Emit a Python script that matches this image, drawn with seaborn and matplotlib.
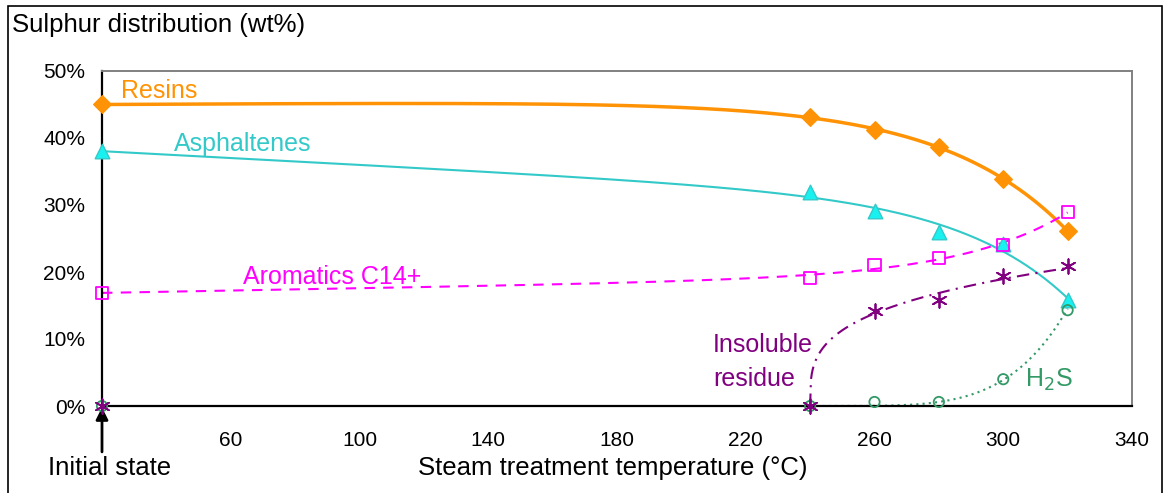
"""Sulphur distribution vs steam treatment temperature."""

import matplotlib

matplotlib.use("Agg")
import matplotlib.pyplot as plt
import numpy as np
import pandas as pd
import seaborn as sns
from matplotlib.patches import Rectangle

# values (wt% of sulphur)
temps = [20, 240, 260, 280, 300, 320]
resins = [45.0, 43.1, 41.2, 38.7, 33.9, 26.1]
asphaltenes = [38.0, 31.9, 29.1, 26.0, 24.2, 15.8]
aromatics = [16.9, 19.1, 21.0, 22.1, 24.0, 29.0]
insoluble = [0.0, 0.0, 14.2, 15.8, 19.4, 20.9]
h2s = [0.0, 0.0, 0.6, 0.6, 4.0, 14.3]

x_ticks = [60, 100, 140, 180, 220, 260, 300, 340]
y_ticks = [0, 10, 20, 30, 40, 50]

ORANGE = "#FF9305"
TEAL = "#33C9C9"
CYAN = "#19F0F0"
MAGENTA = "#FF00FF"
PURPLE = "#800080"
GREEN = "#339966"


def exp_curve(x, y, n=300):
    """Trend line y = a + b*x + c*exp(k*x), k picked by a grid search."""
    x = np.asarray(x, float)
    y = np.asarray(y, float)
    best = None
    for k in np.linspace(0.005, 0.08, 400):
        basis = np.column_stack([np.ones_like(x), x, np.exp(k * (x - 320))])
        coef, *_ = np.linalg.lstsq(basis, y, rcond=None)
        err = np.sum((basis @ coef - y) ** 2)
        if best is None or err < best[0]:
            best = (err, k, coef)
    _, k, coef = best
    xs = np.linspace(x.min(), x.max(), n)
    ys = coef[0] + coef[1] * xs + coef[2] * np.exp(k * (xs - 320))
    return pd.DataFrame({"x": xs, "y": ys})


def power_curve(x, y, x0, n=300):
    """Trend line y = a * (x - x0) ** p, fitted in log space."""
    x = np.asarray(x, float)
    y = np.asarray(y, float)
    p, log_a = np.polyfit(np.log(x - x0), np.log(y), 1)
    xs = np.linspace(x0, x.max(), n)
    return pd.DataFrame({"x": xs, "y": np.exp(log_a) * (xs - x0) ** p})


def main():
    sns.set_style("white")
    plt.rcParams["font.family"] = ["Liberation Sans", "DejaVu Sans"]
    plt.rcParams["text.color"] = "black"
    plt.rcParams["axes.labelcolor"] = "black"

    fig = plt.figure(figsize=(11.68, 4.93), dpi=100)
    ax = fig.add_axes([102 / 1168, 87 / 493, 1030 / 1168, 335 / 493])

    curves = [
        (exp_curve(temps, resins), ORANGE, "-", 2.5),
        (exp_curve(temps, asphaltenes), TEAL, "-", 1.5),
        (exp_curve(temps, aromatics), MAGENTA, (0, (5, 4)), 1.5),
        (power_curve(temps[2:], insoluble[2:], 240), PURPLE, (0, (6, 3, 1, 3)), 1.5),
        (power_curve(temps[3:], h2s[3:], 240), GREEN, (0, (1, 2)), 1.5),
    ]
    for df, color, ls, lw in curves:
        sns.lineplot(
            data=df, x="x", y="y", sort=False, color=color, linestyle=ls,
            linewidth=lw, ax=ax, legend=False,
        )

    markers = [
        (resins, "D", ORANGE, ORANGE, 80, 1),
        (asphaltenes, "^", CYAN, TEAL, 110, 1),
        (aromatics, "s", "none", MAGENTA, 75, 1.3),
        (h2s, "o", "none", GREEN, 55, 1.3),
    ]
    for vals, mk, fc, ec, s, lw in markers:
        sns.scatterplot(
            x=temps, y=vals, marker=mk, s=s, facecolor=fc, edgecolor=ec,
            linewidth=lw, ax=ax, zorder=4, clip_on=False, legend=False,
        )
    ax.scatter(
        temps, insoluble, marker=(6, 2, 0), s=110, color=PURPLE,
        linewidth=1.3, zorder=5, clip_on=False,
    )

    ax.set_xlim(20, 340)
    ax.set_ylim(0, 50)
    ax.set_xticks(x_ticks)
    ax.set_yticks(y_ticks)
    ax.set_yticklabels([f"{v}%" for v in y_ticks])
    ax.tick_params(direction="out", length=5, width=1, colors="black",
                   labelsize=15)
    ax.tick_params(axis="x", pad=13)
    ax.tick_params(axis="y", pad=7)

    for side in ["left", "bottom"]:
        ax.spines[side].set_color("black")
        ax.spines[side].set_linewidth(1.6)
    for side in ["top", "right"]:
        ax.spines[side].set_color("#808080")
        ax.spines[side].set_linewidth(1.4)

    ax.set_xlabel("Steam treatment temperature (°C)", fontsize=18.5)
    ax.xaxis.set_label_coords(0.496, -0.185)
    ax.xaxis.label.set_va("center")
    ax.set_ylabel("")

    # series labels
    ax.text(25.9, 47.0, "Resins", color=ORANGE, fontsize=18, va="center")
    ax.text(42.4, 39.1, "Asphaltenes", color=TEAL, fontsize=18, va="center")
    ax.text(63.9, 19.25, "Aromatics C14+", color=MAGENTA, fontsize=18,
            va="center")
    ax.text(209.8, 6.6, "Insoluble\nresidue", color=PURPLE, fontsize=18,
            va="center", linespacing=1.5)
    ax.text(306.9, 3.9, "H$_2$S", color=GREEN, fontsize=18, va="center")

    # initial state arrow
    ax.annotate(
        "", xy=(20, -0.004), xycoords=("data", "axes fraction"),
        xytext=(20, -0.137), textcoords=("data", "axes fraction"),
        arrowprops=dict(arrowstyle="-|>", color="black", lw=2,
                        mutation_scale=18, shrinkA=0, shrinkB=0),
    )
    ax.text(22.5, -0.185, "Initial state", transform=ax.get_xaxis_transform(),
            fontsize=18.5, ha="center", va="center")

    fig.text(12 / 1168, 1 - 25 / 493, "Sulphur distribution (wt%)",
             fontsize=18.5, va="center", ha="left")

    fig.patches.append(Rectangle(
        (8 / 1168, -0.1), 1154 / 1168, 1.1 - 6 / 493, transform=fig.transFigure,
        fill=False, edgecolor="black", linewidth=1.2,
    ))

    fig.savefig("out.png", dpi=100)
    plt.close(fig)


if __name__ == "__main__":
    main()
